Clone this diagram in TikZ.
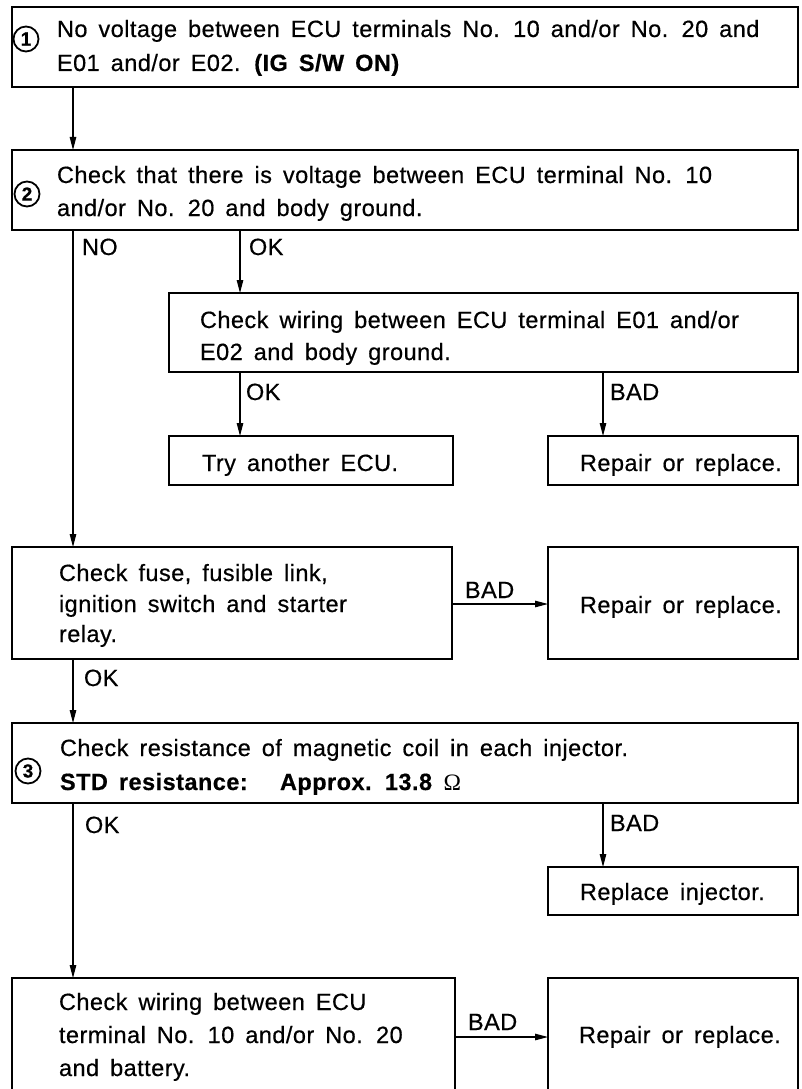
\documentclass[tikz,border=0pt]{standalone}
\usepackage{fontspec}
\setmainfont{Liberation Sans}[LetterSpace=2, FakeBold=0.5]
\newfontfamily\omegafont{Liberation Serif}
\usetikzlibrary{arrows.meta}
\newcommand\flowfnt{\fontsize{23.5}{33}\selectfont\spaceskip=11pt\relax}
\begin{document}
\begin{tikzpicture}[x=1pt,y=-1pt,
  box/.style={draw, line width=2.2pt, rectangle, inner sep=0pt, outer sep=0pt},
  txt/.style={anchor=base west, inner sep=0pt, outer sep=0pt, font=\flowfnt},
  lbl/.style={txt},
  arr/.style={line width=1.1pt, -{Triangle[length=13pt,width=6.5pt]}},
  num/.style={draw, circle, line width=1.8pt, minimum size=25pt, inner sep=0pt, font=\fontsize{19}{19}\selectfont\bfseries}
]
\fill[white] (0,0) rectangle (801,1089);
\useasboundingbox (0,0) rectangle (801,1089);

% boxes
\node[box, minimum width=786pt, minimum height=80pt] (b1) at (405,47) {};
\node[box, minimum width=786pt, minimum height=80pt] (b2) at (405,190) {};
\node[box, minimum width=629pt, minimum height=79pt] (b3) at (483.5,332.5) {};
\node[box, minimum width=284pt, minimum height=49pt] (bTry) at (311,460.5) {};
\node[box, minimum width=250pt, minimum height=49pt] (bRep1) at (673,460.5) {};
\node[box, minimum width=440pt, minimum height=112pt] (bFuse) at (232,603) {};
\node[box, minimum width=250pt, minimum height=112pt] (bRep2) at (673,603) {};
\node[box, minimum width=786pt, minimum height=80pt] (bStep3) at (405,763) {};
\node[box, minimum width=250pt, minimum height=48pt] (bInj) at (673,891) {};
\node[box, minimum width=443pt, minimum height=122pt] (bLast) at (233.5,1039) {};
\node[box, minimum width=250pt, minimum height=122pt] (bRep3) at (673,1039) {};

% circled numbers
\node[num] (n1) at (26,39) {1};
\node[num] (n2) at (27,194) {2};
\node[num] (n3) at (28,771) {3};

% texts
\node[txt] (t1a) at (57,37) {No voltage between ECU terminals No. 10 and/or No. 20 and};
\node[txt] (t1b) at (57,71) {E01 and/or E02. \textbf{(IG S/W ON)}};
\node[txt] (t2a) at (57,183) {Check that there is voltage between ECU terminal No. 10};
\node[txt] (t2b) at (57,216) {and/or No. 20 and body ground.};
\node[txt] (t3a) at (200,328) {Check wiring between ECU terminal E01 and/or};
\node[txt] (t3b) at (200,360) {E02 and body ground.};
\node[txt] (tTry) at (202,471) {Try another ECU.};
\node[txt] (tRep1) at (580,471) {Repair or replace.};
\node[txt] (tFa) at (59,581) {Check fuse, fusible link,};
\node[txt] (tFb) at (59,612) {ignition switch and starter};
\node[txt] (tFc) at (59,642) {relay.};
\node[txt] (tRep2) at (580,613) {Repair or replace.};
\node[txt] (tSa) at (60,756) {Check resistance of magnetic coil in each injector.};
\node[txt] (tSb) at (60,790) {\textbf{STD resistance:}};
\node[txt] (tSc) at (280,790) {\textbf{Approx. 13.8} {\omegafont Ω}};
\node[txt] (tInj) at (580,900) {Replace injector.};
\node[txt] (tLa) at (59,1010) {Check wiring between ECU};
\node[txt] (tLb) at (59,1043) {terminal No. 10 and/or No. 20};
\node[txt] (tLc) at (59,1076) {and battery.};
\node[txt] (tRep3) at (579,1043) {Repair or replace.};

% labels
\node[lbl] (l1) at (82,255) {NO};
\node[lbl] (l2) at (249,255) {OK};
\node[lbl] (l3) at (246,400) {OK};
\node[lbl] (l4) at (610,400) {BAD};
\node[lbl] (l5) at (465,598) {BAD};
\node[lbl] (l6) at (84,686) {OK};
\node[lbl] (l7) at (85,833) {OK};
\node[lbl] (l8) at (610,831) {BAD};
\node[lbl] (l9) at (468,1030) {BAD};

% columns / rows
\coordinate (cA) at (73,0);
\coordinate (cB) at (240,0);
\coordinate (cC) at (603,0);
\coordinate (rA) at (0,604);
\coordinate (rB) at (0,1037);

% connectors
\draw[arr] (b1.south -| cA) -- (b2.north -| cA);
\draw[arr] (b2.south -| cA) -- (bFuse.north -| cA);
\draw[arr] (b2.south -| cB) -- (b3.north -| cB);
\draw[arr] (b3.south -| cB) -- (bTry.north -| cB);
\draw[arr] (b3.south -| cC) -- (bRep1.north -| cC);
\draw[arr] (bFuse.east |- rA) -- (bRep2.west |- rA);
\draw[arr] (bFuse.south -| cA) -- (bStep3.north -| cA);
\draw[arr] (bStep3.south -| cA) -- (bLast.north -| cA);
\draw[arr] (bStep3.south -| cC) -- (bInj.north -| cC);
\draw[arr] (bLast.east |- rB) -- (bRep3.west |- rB);
\end{tikzpicture}
\end{document}
